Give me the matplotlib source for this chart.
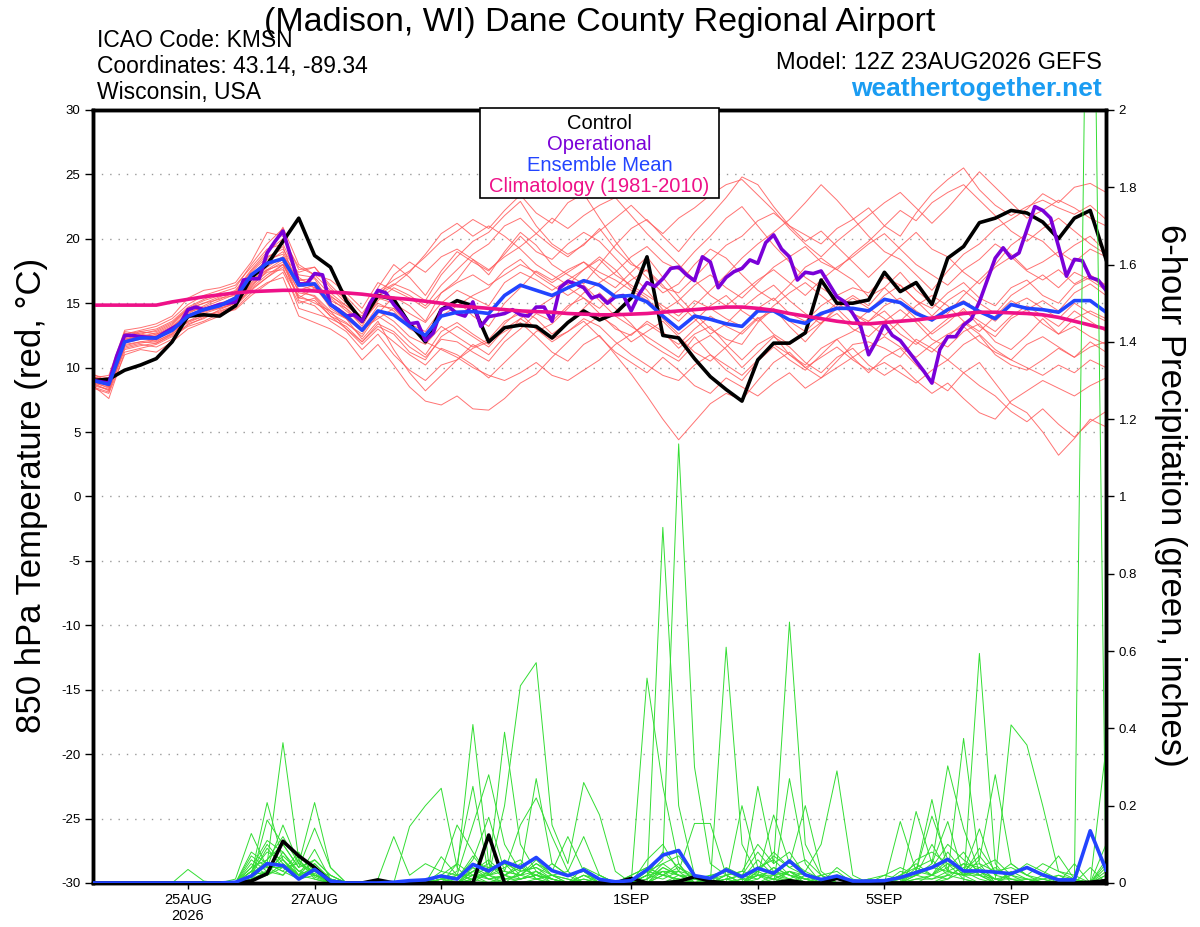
import numpy as np
import pandas as pd
import matplotlib
matplotlib.use('Agg')
import matplotlib.pyplot as plt
from matplotlib.patches import Rectangle

plt.rcParams['font.family'] = ['Liberation Sans', 'DejaVu Sans']

# run start and 6-hourly steps (operational is 3-hourly)
run_start = pd.Timestamp('2026-08-23 12:00')
tick_days = ['2026-08-25', '2026-08-27', '2026-08-29', '2026-09-01',
             '2026-09-03', '2026-09-05', '2026-09-07']
tick_labels = ['25AUG\n2026', '27AUG', '29AUG', '1SEP', '3SEP', '5SEP', '7SEP']

# 850 hPa temperature (C), control run
control_t = [9.0, 9.1, 9.8, 10.2, 10.7, 12.0, 14.0, 14.1, 14.0, 14.8,
             17.0, 18.0, 19.8, 21.6, 18.7, 17.8, 15.2, 13.6, 15.6, 15.3,
             13.4, 12.0, 14.5, 15.2, 14.8, 12.0, 13.1, 13.3, 13.2, 12.3,
             13.5, 14.4, 13.7, 14.2, 15.4, 18.6, 12.5, 12.3, 10.7, 9.3,
             8.3, 7.4, 10.6, 11.9, 11.9, 12.7, 16.8, 15.0, 15.0, 15.25,
             17.4, 15.9, 16.6, 14.9, 18.5, 19.4, 21.25, 21.6, 22.2, 22.0,
             21.3, 20.0, 21.6, 22.2, 18.4]

# operational run, 3-hourly
oper_t = [9.0, 8.9, 8.8, 10.9, 12.5, 12.5, 12.4, 12.35, 12.3, 12.7,
          13.05, 13.4, 14.5, 14.7, 14.5, 14.7, 14.9, 15.0, 15.1, 16.8,
          16.9, 16.9, 18.9, 19.8, 20.6, 18.6, 16.5, 16.5, 17.3, 17.2,
          14.9, 14.5, 14.0, 14.1, 13.6, 15.0, 16.0, 15.8, 14.9, 14.2,
          13.4, 13.5, 12.1, 12.7, 14.5, 14.7, 14.2, 14.0, 15.1, 13.2,
          13.96, 14.07, 14.2, 14.5, 14.1, 14.0, 14.7, 14.7, 13.6, 16.2,
          16.7, 16.5, 16.2, 15.4, 15.6, 15.0, 15.5, 15.6, 14.4, 15.7,
          16.6, 16.3, 16.9, 17.7, 17.8, 17.2, 16.75, 18.6, 18.2, 16.2,
          17.0, 17.45, 17.7, 18.36, 18.1, 19.7, 20.3, 19.2, 18.6, 16.8,
          17.4, 17.3, 17.5, 16.5, 15.5, 15.1, 14.2, 13.2, 11.0, 12.1,
          13.4, 12.5, 12.1, 11.3, 10.5, 9.7, 8.8, 11.4, 12.4, 12.4,
          13.3, 13.8, 15.1, 16.8, 18.5, 19.3, 18.5, 18.9, 20.7, 22.5,
          22.2, 21.6, 19.4, 17.1, 18.4, 18.3, 17.0, 16.8, 16.0]

mean_t = [9.0, 8.7, 12.0, 12.3, 12.3, 12.9, 14.0, 14.5, 14.8, 15.4,
          17.2, 18.1, 18.45, 16.4, 16.5, 14.9, 14.0, 12.9, 14.4, 14.1,
          13.2, 12.5, 14.0, 14.3, 14.35, 14.2, 15.6, 16.4, 16.0, 15.6,
          16.2, 16.75, 16.4, 15.5, 15.6, 15.1, 14.0, 13.0, 14.0, 13.75,
          13.4, 13.2, 14.4, 14.4, 13.7, 13.44, 14.2, 14.6, 14.6, 14.4,
          15.3, 15.05, 14.2, 13.7, 14.5, 15.05, 14.35, 13.8, 14.9, 14.6,
          14.5, 14.3, 15.2, 15.2, 14.3]

clim_t = [14.85, 14.85, 14.85, 14.85, 14.85, 15.1, 15.3, 15.5, 15.65, 15.8,
          15.9, 15.95, 16.0, 16.0, 15.95, 15.85, 15.8, 15.7, 15.55, 15.4,
          15.3, 15.15, 15.0, 14.8, 14.7, 14.6, 14.5, 14.4, 14.35, 14.3,
          14.2, 14.15, 14.1, 14.1, 14.15, 14.2, 14.3, 14.4, 14.5, 14.6,
          14.7, 14.7, 14.6, 14.45, 14.2, 14.0, 13.8, 13.6, 13.45, 13.4,
          13.5, 13.6, 13.7, 13.85, 14.0, 14.2, 14.3, 14.3, 14.25, 14.2,
          14.1, 13.9, 13.6, 13.3, 13.0]

# ensemble members, temperature
members_t = [
    [9.3, 8.5, 12.6, 12.9, 13.2, 13.8, 14.9, 15.6, 16.0, 16.4,
     17.8, 19.2, 19.6, 17.0, 16.2, 15.5, 14.8, 14.0, 15.8, 16.5,
     16.0, 15.2, 17.2, 18.6, 19.8, 20.5, 21.8, 22.9, 21.0, 19.6,
     18.8, 19.5, 20.8, 19.2, 18.0, 17.5, 16.2, 15.8, 17.0, 18.3,
     19.5, 20.2, 21.4, 22.0, 21.0, 20.3, 19.6, 20.8, 21.5, 22.4,
     21.0, 20.2, 22.0, 23.5, 24.6, 25.5, 23.8, 22.6, 21.8, 22.5,
     23.0, 22.4, 21.9, 22.6, 21.5],
    [8.8, 8.2, 11.5, 11.8, 11.6, 12.2, 13.4, 13.8, 14.5, 15.0,
     16.3, 17.5, 18.2, 15.2, 14.8, 13.6, 12.8, 11.4, 12.6, 11.0,
     9.8, 9.0, 10.2, 10.6, 11.5, 12.0, 12.8, 13.5, 12.4, 11.2,
     10.5, 11.8, 12.5, 11.0, 9.5, 7.8, 6.0, 4.4, 5.8, 7.2,
     8.0, 7.5, 9.0, 10.4, 11.2, 10.0, 9.2, 10.5, 11.8, 12.0,
     11.5, 10.8, 12.2, 11.5, 10.6, 11.8, 12.5, 11.0, 10.2, 9.8,
     10.6, 11.5, 10.8, 12.0, 11.2],
    [9.5, 8.9, 12.8, 12.6, 12.9, 13.5, 14.6, 15.0, 15.3, 15.9,
     17.5, 18.8, 20.9, 18.0, 17.2, 16.0, 15.5, 14.2, 15.9, 16.8,
     17.5, 18.6, 19.8, 20.6, 21.5, 20.8, 22.2, 23.4, 22.0, 21.2,
     22.8, 23.5, 21.6, 19.8, 18.2, 17.0, 15.8, 16.5, 18.0, 19.2,
     18.5, 17.2, 16.0, 15.2, 16.4, 17.8, 18.5, 17.6, 16.8, 15.5,
     16.2, 17.4, 16.0, 15.0, 14.2, 15.6, 16.8, 18.0, 19.5, 20.4,
     19.8, 18.6, 19.5, 20.2, 19.0],
    [9.0, 8.6, 12.2, 12.4, 12.0, 12.7, 13.8, 14.4, 14.6, 15.0,
     16.5, 17.6, 18.0, 16.8, 16.9, 15.0, 14.2, 13.0, 14.8, 14.6,
     13.4, 12.8, 14.5, 15.2, 14.0, 13.2, 15.0, 16.2, 17.5, 16.8,
     17.6, 18.2, 17.0, 16.2, 17.4, 18.6, 17.0, 15.5, 14.2, 13.0,
     12.2, 11.8, 13.5, 14.6, 13.2, 12.0, 13.4, 14.8, 15.6, 14.8,
     16.2, 15.0, 13.8, 12.6, 13.5, 14.6, 13.2, 12.4, 13.8, 14.5,
     15.2, 14.4, 15.8, 16.5, 15.6],
    [8.6, 7.6, 11.2, 11.5, 11.8, 12.4, 13.2, 13.6, 14.2, 14.8,
     16.0, 17.0, 17.8, 14.6, 14.2, 13.8, 13.2, 12.0, 13.4, 12.8,
     11.6, 10.8, 12.2, 12.0, 11.2, 10.5, 12.0, 13.0, 14.2, 13.6,
     14.8, 15.4, 14.2, 13.0, 12.5, 13.6, 12.8, 11.5, 12.6, 13.2,
     11.8, 10.6, 11.8, 12.5, 11.0, 10.2, 11.5, 12.2, 10.8, 9.6,
     10.8, 11.5, 10.2, 9.0, 8.2, 9.6, 10.4, 8.8, 7.2, 6.5,
     5.0, 3.2, 4.5, 6.0, 5.4],
    [9.2, 9.4, 12.9, 13.1, 13.4, 14.0, 15.4, 16.0, 16.2, 16.6,
     18.2, 20.5, 20.2, 17.6, 17.8, 16.4, 15.2, 13.5, 16.2, 18.0,
     17.0, 15.6, 17.5, 19.0, 18.2, 17.5, 18.8, 20.2, 19.0, 18.4,
     19.6, 20.5, 19.8, 18.5, 17.2, 16.0, 14.5, 13.6, 14.8, 16.0,
     17.2, 18.5, 19.6, 20.5, 21.5, 22.8, 24.2, 23.0, 21.6, 20.2,
     19.0, 18.4, 17.2, 16.0, 17.5, 18.8, 19.6, 20.8, 21.5, 22.3,
     23.5, 22.8, 24.0, 24.3, 23.6],
    [8.4, 8.0, 11.0, 11.4, 11.2, 12.0, 13.0, 13.5, 14.0, 14.6,
     15.8, 16.6, 17.0, 14.0, 13.5, 13.0, 12.2, 10.6, 11.8, 10.2,
     8.5, 7.4, 7.1, 7.8, 6.8, 6.7, 7.6, 8.8, 9.5, 10.8,
     12.0, 13.2, 14.0, 13.2, 12.0, 12.8, 13.6, 12.4, 11.2, 10.5,
     11.6, 12.8, 13.9, 12.6, 11.8, 12.6, 13.5, 14.2, 13.0, 12.4,
     13.6, 14.5, 13.5, 12.2, 11.6, 12.8, 13.4, 12.0, 11.4, 12.5,
     13.8, 12.6, 13.2, 12.4, 11.8],
    [9.1, 8.8, 12.4, 12.8, 12.6, 13.2, 14.2, 14.8, 15.4, 15.6,
     17.0, 18.5, 19.4, 16.0, 15.5, 14.2, 13.5, 12.4, 14.2, 15.5,
     14.8, 13.6, 15.8, 16.8, 18.4, 17.2, 19.0, 20.5, 19.5, 18.0,
     17.2, 16.5, 18.0, 19.5, 20.8, 21.5, 20.2, 19.0, 20.5, 21.8,
     23.2, 24.8, 24.2, 22.5, 21.0, 19.8, 20.6, 19.4, 18.2, 17.0,
     18.2, 19.4, 20.5, 19.2, 18.6, 17.4, 16.5, 17.8, 18.6, 17.5,
     16.8, 17.6, 16.5, 17.2, 16.4],
    [8.9, 8.4, 11.8, 12.0, 12.2, 12.8, 13.5, 14.0, 14.4, 14.8,
     16.2, 17.2, 18.0, 16.0, 16.4, 14.6, 13.8, 12.8, 14.0, 13.2,
     12.0, 11.0, 12.8, 13.5, 12.6, 11.8, 13.4, 14.5, 13.8, 12.6,
     13.5, 14.6, 15.8, 14.6, 13.4, 12.0, 11.2, 10.5, 11.8, 12.5,
     11.4, 10.0, 11.2, 12.4, 11.6, 10.4, 9.6, 10.8, 11.5, 10.2,
     9.4, 10.2, 9.0, 8.0, 8.8, 7.6, 6.5, 6.0, 7.4, 8.2,
     9.0, 8.4, 7.8, 8.6, 9.2],
    [9.0, 9.0, 12.5, 12.2, 12.5, 13.0, 14.4, 14.6, 15.0, 15.4,
     17.0, 18.2, 19.0, 16.6, 16.2, 15.2, 14.6, 13.2, 15.4, 15.0,
     14.2, 13.5, 15.0, 16.0, 15.4, 14.8, 16.6, 17.4, 16.8, 16.0,
     16.8, 17.6, 18.4, 17.2, 16.4, 15.6, 14.8, 14.0, 15.2, 14.6,
     13.8, 13.2, 14.6, 15.4, 14.2, 13.6, 14.8, 15.6, 16.2, 15.8,
     17.0, 16.4, 15.2, 14.6, 15.8, 16.6, 15.4, 14.8, 16.2, 16.8,
     15.6, 15.0, 16.4, 17.0, 16.2],
    [8.7, 8.3, 11.6, 11.9, 12.1, 12.6, 13.6, 14.2, 14.6, 15.0,
     16.4, 17.4, 17.6, 15.6, 15.0, 14.4, 13.0, 11.8, 13.0, 12.0,
     11.0, 10.2, 11.5, 11.0, 10.2, 9.2, 10.4, 11.6, 12.8, 13.4,
     14.6, 15.8, 16.6, 17.4, 18.6, 19.4, 18.2, 17.6, 19.0, 20.2,
     21.6, 22.5, 21.0, 19.5, 18.2, 17.0, 16.2, 15.4, 14.2, 13.4,
     12.5, 13.6, 14.8, 15.6, 14.8, 13.6, 12.8, 14.0, 15.2, 14.5,
     13.4, 12.6, 13.8, 14.4, 13.8],
    [9.3, 8.9, 12.3, 12.7, 12.8, 13.4, 14.6, 15.2, 15.6, 15.8,
     17.4, 18.6, 19.2, 17.2, 17.0, 15.6, 14.6, 13.6, 15.0, 14.4,
     13.0, 12.4, 14.0, 14.8, 15.6, 16.2, 17.6, 18.4, 17.2, 16.4,
     15.6, 16.4, 15.2, 14.0, 13.2, 12.4, 11.6, 10.8, 12.4, 11.0,
     9.8, 9.0, 10.5, 11.6, 10.6, 9.8, 11.0, 12.2, 12.8, 13.6,
     14.4, 13.2, 12.0, 11.2, 12.4, 13.5, 12.6, 11.4, 10.6, 11.8,
     12.4, 11.6, 10.8, 11.6, 12.0],
    [9.0, 8.7, 12.1, 12.5, 12.4, 13.0, 14.1, 14.6, 14.9, 15.5,
     17.2, 18.0, 18.6, 17.4, 17.8, 16.2, 15.0, 13.6, 15.4, 17.2,
     18.2, 17.4, 18.6, 19.2, 18.4, 17.6, 18.6, 19.4, 20.4, 21.6,
     20.8, 21.8, 22.6, 23.2, 21.8, 20.4, 19.2, 18.0, 16.8, 15.6,
     14.8, 15.8, 16.8, 17.6, 16.6, 15.6, 16.8, 17.8, 18.6, 19.6,
     20.4, 19.2, 18.0, 17.2, 16.4, 17.6, 18.4, 19.6, 18.8, 17.6,
     18.2, 19.0, 18.2, 19.2, 18.6],
    [8.5, 8.1, 11.4, 11.7, 11.9, 12.5, 13.3, 13.9, 14.2, 14.5,
     15.6, 16.5, 17.4, 15.0, 15.4, 14.0, 13.4, 12.6, 14.4, 13.6,
     12.4, 11.8, 13.2, 12.4, 11.6, 12.2, 13.6, 14.2, 13.0, 12.2,
     12.8, 13.6, 12.4, 11.2, 10.4, 9.6, 10.8, 9.8, 8.6, 8.0,
     9.2, 8.5, 7.8, 8.8, 9.6, 8.4, 9.2, 10.0, 10.8, 11.6,
     12.4, 11.6, 10.8, 11.8, 12.6, 13.2, 12.0, 11.2, 10.6, 10.0,
     9.4, 10.2, 9.6, 10.6, 10.0],
    [9.4, 9.2, 12.7, 12.4, 12.7, 13.3, 14.5, 15.0, 15.5, 16.0,
     17.6, 19.0, 20.0, 17.8, 17.2, 16.8, 15.8, 14.6, 16.6, 16.0,
     15.4, 14.6, 15.8, 16.6, 17.2, 16.4, 17.2, 18.0, 17.4, 16.6,
     17.4, 18.2, 17.4, 16.8, 16.0, 15.2, 14.4, 15.2, 16.4, 17.2,
     16.2, 15.4, 16.6, 17.8, 18.6, 19.4, 18.2, 17.6, 18.8, 19.8,
     21.0, 22.2, 21.4, 22.8, 23.6, 24.2, 23.0, 21.8, 20.6, 19.8,
     20.8, 21.6, 20.6, 19.6, 18.8],
    [8.8, 8.5, 11.9, 12.2, 12.3, 12.9, 13.9, 14.3, 14.7, 15.1,
     16.6, 17.8, 18.6, 15.8, 15.6, 14.4, 13.8, 12.2, 13.6, 11.4,
     9.6, 8.2, 9.4, 10.6, 11.8, 11.0, 12.4, 13.8, 14.6, 15.4,
     16.2, 15.4, 14.6, 15.8, 16.8, 17.6, 16.4, 15.0, 13.8, 12.6,
     13.4, 14.6, 15.6, 16.4, 15.2, 14.2, 13.4, 14.6, 15.4, 14.6,
     13.8, 12.6, 11.8, 12.8, 13.8, 14.4, 13.6, 12.8, 14.0, 14.8,
     14.0, 13.2, 14.4, 13.6, 12.8],
    [9.1, 8.8, 12.2, 12.6, 12.4, 13.1, 14.3, 14.7, 15.2, 15.7,
     17.2, 18.4, 18.8, 16.4, 16.0, 15.8, 14.8, 13.8, 15.6, 16.4,
     17.4, 18.8, 20.4, 21.2, 20.2, 21.0, 20.2, 19.2, 18.0, 17.2,
     16.4, 17.6, 18.6, 17.6, 16.2, 15.4, 13.8, 12.6, 13.6, 14.8,
     15.6, 14.4, 13.6, 14.8, 15.8, 16.6, 15.6, 14.6, 13.4, 14.4,
     15.6, 16.4, 15.2, 14.0, 15.2, 16.0, 15.0, 14.2, 15.6, 16.4,
     17.2, 16.2, 17.4, 16.8, 16.0],
    [8.6, 8.3, 11.7, 12.0, 11.9, 12.6, 13.6, 14.0, 14.3, 14.9,
     16.1, 17.0, 18.0, 15.4, 16.2, 14.8, 13.8, 13.0, 13.8, 14.6,
     13.2, 12.0, 11.4, 10.8, 10.0, 9.4, 9.0, 9.6, 10.4, 9.4,
     9.0, 9.8, 10.6, 11.8, 12.6, 13.4, 12.6, 11.8, 13.0, 14.0,
     13.2, 12.6, 13.8, 14.4, 13.6, 12.8, 14.0, 15.0, 14.2, 13.6,
     14.8, 15.4, 14.4, 13.6, 14.6, 15.2, 14.4, 13.6, 14.8, 15.4,
     14.6, 13.8, 15.0, 14.2, 13.6],
    [9.2, 9.1, 12.6, 12.8, 13.0, 13.6, 14.7, 15.3, 15.8, 16.2,
     18.0, 19.6, 20.8, 16.8, 16.6, 15.4, 14.4, 13.4, 15.2, 16.2,
     15.6, 14.8, 16.4, 17.6, 18.8, 19.6, 21.0, 21.6, 20.4, 19.4,
     18.6, 19.6, 20.6, 21.6, 22.6, 21.4, 20.4, 21.6, 22.4, 23.4,
     24.2, 24.6, 23.4, 22.2, 20.8, 19.6, 18.6, 19.8, 20.8, 21.8,
     22.8, 23.6, 22.4, 21.2, 22.4, 23.8, 25.2, 24.0, 22.8, 21.6,
     22.2, 23.0, 22.4, 21.6, 21.0],
    [8.9, 8.6, 12.0, 12.3, 12.6, 13.0, 14.0, 14.4, 14.8, 15.2,
     16.8, 17.6, 18.4, 15.4, 15.2, 14.0, 13.0, 12.0, 13.2, 12.6,
     11.2, 10.6, 12.4, 13.2, 12.4, 11.6, 13.0, 13.8, 13.0, 12.0,
     12.8, 13.8, 13.2, 12.0, 11.0, 10.2, 9.4, 9.0, 10.2, 11.0,
     10.2, 9.4, 10.6, 11.8, 11.0, 10.0, 10.8, 11.6, 10.6, 9.8,
     10.4, 9.6, 8.8, 9.8, 10.6, 9.6, 8.6, 7.8, 6.6, 5.8,
     6.8, 5.6, 4.6, 5.8, 6.6],
]

# 6-hour precipitation (inches)
control_p = [0, 0, 0, 0, 0, 0, 0, 0, 0, 0,
             0.005, 0.024, 0.108, 0.07, 0.04, 0.003, 0, 0, 0.008, 0,
             0, 0, 0, 0, 0, 0.124, 0, 0, 0, 0,
             0, 0, 0, 0, 0.012, 0, 0, 0.004, 0.016, 0.004,
             0, 0, 0, 0, 0.006, 0, 0, 0.012, 0, 0,
             0, 0, 0, 0, 0, 0, 0, 0, 0, 0,
             0, 0, 0, 0.002, 0.006]

mean_p = [0, 0, 0, 0, 0, 0, 0, 0, 0, 0.002,
          0.018, 0.05, 0.045, 0.01, 0.035, 0.005, 0, 0, 0, 0.002,
          0.006, 0.008, 0.018, 0.01, 0.048, 0.031, 0.055, 0.04, 0.066, 0.032,
          0.019, 0.034, 0.0095, 0.003, 0.006, 0.034, 0.072, 0.084, 0.019, 0.012,
          0.034, 0.016, 0.038, 0.025, 0.057, 0.021, 0.009, 0.018, 0.005, 0.005,
          0.006, 0.014, 0.027, 0.04, 0.061, 0.031, 0.031, 0.028, 0.024, 0.04,
          0.021, 0.008, 0.008, 0.135, 0.034]

members_p = [
    [0, 0, 0, 0, 0, 0, 0.035, 0.005, 0, 0,
     0.02, 0.05, 0.363, 0.06, 0.02, 0, 0, 0, 0, 0,
     0, 0, 0.01, 0.03, 0.41, 0.05, 0.02, 0.01, 0.03, 0,
     0, 0, 0, 0, 0, 0.02, 0.06, 1.136, 0.3, 0.05,
     0.02, 0, 0.03, 0.01, 0, 0, 0, 0.01, 0, 0,
     0, 0, 0, 0.02, 0.05, 0.01, 0, 0, 0, 0,
     0, 0, 0, 0, 0],
    [0, 0, 0, 0, 0, 0, 0, 0, 0, 0.01,
     0.128, 0.04, 0.15, 0.05, 0.208, 0.04, 0, 0, 0, 0,
     0, 0, 0.068, 0.02, 0.15, 0.28, 0.1, 0.03, 0.27, 0.05,
     0.02, 0, 0, 0, 0, 0, 0.92, 0.2, 0.02, 0,
     0, 0.01, 0, 0, 0.27, 0.05, 0, 0, 0, 0,
     0, 0, 0.03, 0.173, 0.06, 0.02, 0, 0, 0, 0,
     0, 0, 0, 0, 0],
    [0, 0, 0, 0, 0, 0, 0, 0, 0, 0,
     0.02, 0.208, 0.06, 0.02, 0.087, 0.01, 0, 0, 0, 0,
     0.146, 0.2, 0.245, 0.04, 0, 0.03, 0.39, 0.1, 0.03, 0.01,
     0, 0, 0, 0, 0, 0.53, 0.25, 0.05, 0, 0,
     0.61, 0.1, 0.02, 0, 0.03, 0.01, 0, 0, 0, 0,
     0, 0, 0, 0, 0.02, 0.374, 0.05, 0, 0.02, 0,
     0, 0, 0, 0, 0],
    [0, 0, 0, 0, 0, 0, 0, 0, 0, 0,
     0.01, 0.163, 0.1, 0.04, 0.142, 0.04, 0, 0, 0, 0,
     0, 0, 0, 0.05, 0.25, 0.02, 0.2, 0.51, 0.57, 0.15,
     0.05, 0.26, 0.176, 0.03, 0, 0, 0, 0.02, 0, 0,
     0, 0, 0.25, 0.05, 0.675, 0.1, 0.02, 0, 0, 0,
     0, 0, 0, 0, 0, 0, 0.594, 0.05, 0, 0,
     0, 0, 0, 0, 0],
    [0, 0, 0, 0, 0, 0, 0, 0, 0, 0,
     0.05, 0.02, 0.08, 0.03, 0.05, 0.01, 0, 0, 0, 0,
     0, 0, 0.02, 0.01, 0.06, 0.17, 0.03, 0.15, 0.22, 0.12,
     0.03, 0.12, 0.02, 0, 0, 0, 0.03, 0.03, 0.154, 0.154,
     0.02, 0, 0.02, 0.176, 0.05, 0.2, 0.03, 0, 0, 0,
     0, 0, 0.185, 0.05, 0.303, 0.141, 0.03, 0, 0, 0,
     0, 0, 0, 3.2, 0],
    [0, 0, 0, 0, 0, 0, 0, 0, 0, 0,
     0.03, 0.1, 0.05, 0.02, 0.06, 0.02, 0, 0, 0.01, 0.12,
     0.02, 0.05, 0.03, 0.15, 0.08, 0.02, 0.06, 0.02, 0.05, 0.03,
     0.12, 0.03, 0, 0, 0, 0.06, 0.1, 0.03, 0, 0.02,
     0, 0.2, 0.04, 0.02, 0.06, 0.03, 0.1, 0.29, 0.02, 0,
     0, 0.159, 0.03, 0.216, 0.03, 0.02, 0.06, 0.28, 0.05, 0.02,
     0, 0, 0, 0, 0.35],
    [0, 0, 0, 0, 0, 0, 0, 0, 0, 0,
     0.04, 0.06, 0.12, 0.05, 0.03, 0.02, 0, 0, 0, 0,
     0, 0, 0, 0, 0.03, 0.06, 0.02, 0.04, 0.02, 0.01,
     0, 0.04, 0.02, 0, 0, 0.03, 0.05, 0.07, 0.02, 0,
     0.04, 0.02, 0.08, 0.03, 0.02, 0, 0.02, 0.03, 0, 0.01,
     0.02, 0.04, 0.02, 0.05, 0.159, 0.02, 0.03, 0.01, 0.409, 0.357,
     0.2, 0.03, 0.01, 0, 0],
    [0, 0, 0, 0, 0, 0, 0, 0, 0, 0,
     0.06, 0.03, 0.02, 0.07, 0.04, 0, 0, 0, 0, 0,
     0, 0, 0.01, 0.02, 0.02, 0.02, 0.03, 0.02, 0.05, 0.02,
     0, 0.02, 0, 0, 0, 0.01, 0.04, 0.02, 0.01, 0,
     0.01, 0.02, 0.03, 0.08, 0.04, 0.02, 0.01, 0, 0, 0,
     0, 0.02, 0.05, 0.02, 0.08, 0.03, 0.14, 0.02, 0.05, 0.02,
     0.01, 0.02, 0.01, 0, 0.1],
    [0, 0, 0, 0, 0, 0, 0, 0, 0, 0,
     0.02, 0.09, 0.04, 0.02, 0.025, 0, 0, 0, 0, 0,
     0, 0, 0, 0.02, 0.04, 0.01, 0.02, 0.05, 0.01, 0,
     0, 0, 0, 0, 0.02, 0.04, 0.02, 0.01, 0, 0,
     0, 0, 0.01, 0.04, 0.02, 0.01, 0, 0, 0, 0,
     0, 0, 0.02, 0.1, 0.03, 0.02, 0.02, 0, 0.03, 0.01,
     0, 0, 0.01, 0, 0],
    [0, 0, 0, 0, 0, 0, 0, 0, 0, 0,
     0.08, 0.05, 0.03, 0.01, 0.05, 0.01, 0, 0, 0, 0,
     0, 0, 0.02, 0.01, 0.05, 0.04, 0.03, 0.02, 0.01, 0.02,
     0.03, 0, 0, 0, 0, 0, 0.02, 0.04, 0.01, 0.02,
     0.03, 0.01, 0.06, 0.02, 0, 0.02, 0.01, 0, 0, 0,
     0, 0.03, 0.02, 0.04, 0.06, 0.03, 0.07, 0.02, 0.01, 0,
     0.02, 0.07, 0.01, 0, 0.04],
    [0, 0, 0, 0, 0, 0, 0, 0, 0, 0,
     0.01, 0.03, 0.07, 0.03, 0.02, 0.005, 0, 0, 0, 0,
     0, 0.01, 0, 0, 0.02, 0, 0.01, 0.02, 0.03, 0.01,
     0, 0.01, 0, 0, 0, 0.02, 0.01, 0.03, 0.02, 0,
     0, 0, 0.02, 0.01, 0.03, 0, 0, 0.01, 0, 0,
     0, 0, 0.01, 0.02, 0.01, 0.05, 0.02, 0, 0, 0.01,
     0, 0, 0, 0, 0.02],
    [0, 0, 0, 0, 0, 0, 0, 0, 0, 0,
     0.03, 0.04, 0.02, 0.06, 0.01, 0, 0, 0, 0, 0,
     0, 0, 0.01, 0, 0.01, 0.02, 0, 0.03, 0.04, 0.01,
     0, 0.02, 0.01, 0, 0, 0, 0.02, 0.01, 0, 0,
     0.01, 0, 0.04, 0.06, 0.02, 0.01, 0, 0.02, 0, 0,
     0, 0.01, 0.03, 0.02, 0.04, 0.08, 0.02, 0.01, 0, 0,
     0.01, 0, 0, 0, 0],
    [0, 0, 0, 0, 0, 0, 0, 0, 0, 0,
     0.02, 0.06, 0.1, 0.04, 0.06, 0.02, 0, 0, 0, 0,
     0, 0, 0.02, 0.05, 0.02, 0.04, 0.05, 0.01, 0.02, 0.05,
     0.02, 0.03, 0, 0, 0, 0.01, 0.05, 0.02, 0, 0.01,
     0.02, 0.03, 0.1, 0.05, 0.08, 0.02, 0, 0.04, 0.01, 0,
     0, 0, 0.02, 0.01, 0.03, 0.02, 0.04, 0.06, 0.02, 0.05,
     0.03, 0.01, 0, 0, 0.06],
    [0, 0, 0, 0, 0, 0, 0, 0, 0, 0,
     0.005, 0.02, 0.04, 0.015, 0.03, 0, 0, 0, 0, 0,
     0, 0, 0, 0, 0.01, 0, 0.02, 0, 0.01, 0,
     0, 0, 0, 0, 0, 0, 0, 0.01, 0, 0,
     0, 0, 0, 0.02, 0.01, 0, 0, 0, 0, 0,
     0, 0, 0, 0, 0.01, 0.03, 0.01, 0, 0, 0,
     0, 0, 0, 0, 0],
    [0, 0, 0, 0, 0, 0, 0, 0, 0, 0,
     0.04, 0.11, 0.08, 0.02, 0.01, 0, 0, 0, 0, 0,
     0, 0, 0, 0.01, 0.07, 0.02, 0.04, 0.06, 0.01, 0.02,
     0.01, 0, 0.02, 0, 0, 0.02, 0.08, 0.04, 0.02, 0,
     0.01, 0, 0.03, 0.07, 0.04, 0.06, 0.02, 0, 0, 0.01,
     0, 0.02, 0.04, 0.06, 0.02, 0.04, 0.05, 0.03, 0.02, 0.04,
     0.02, 0, 0.05, 0, 0.03],
    [0, 0, 0, 0, 0, 0, 0, 0, 0, 0,
     0.03, 0.02, 0.05, 0.02, 0.04, 0.01, 0, 0, 0, 0,
     0, 0, 0.01, 0, 0.03, 0.01, 0, 0.01, 0.02, 0,
     0, 0, 0, 0, 0, 0.01, 0.03, 0, 0, 0,
     0, 0, 0, 0.01, 0.01, 0, 0, 0, 0, 0,
     0, 0, 0.01, 0.01, 0.02, 0.01, 0, 0, 0, 0,
     0, 0, 0, 0, 0.01],
    [0, 0, 0, 0, 0, 0, 0, 0, 0, 0,
     0.07, 0.04, 0.04, 0.05, 0.02, 0.01, 0, 0, 0, 0,
     0, 0, 0.03, 0.02, 0.01, 0.03, 0.05, 0.03, 0.04, 0.02,
     0, 0.02, 0, 0, 0.02, 0.04, 0.02, 0.01, 0.01, 0,
     0.02, 0.03, 0.02, 0.01, 0.03, 0.02, 0, 0.02, 0, 0,
     0.02, 0.01, 0.03, 0.04, 0.1, 0.06, 0.03, 0.01, 0.02, 0.01,
     0, 0.02, 0, 0.04, 0],
    [0, 0, 0, 0, 0, 0, 0, 0, 0, 0,
     0.02, 0.03, 0.06, 0.01, 0.02, 0, 0, 0, 0, 0,
     0, 0, 0, 0, 0.02, 0.01, 0.02, 0.04, 0.02, 0.01,
     0, 0, 0, 0, 0, 0, 0.04, 0.02, 0.02, 0,
     0, 0.01, 0.02, 0.02, 0.03, 0.01, 0, 0.01, 0, 0,
     0, 0, 0.06, 0.08, 0.05, 0.03, 0.02, 0.04, 0.01, 0,
     0, 0, 0, 0, 0],
    [0, 0, 0, 0, 0, 0, 0, 0, 0, 0,
     0.01, 0.05, 0.03, 0.08, 0.015, 0, 0, 0, 0, 0,
     0, 0, 0.01, 0.01, 0.03, 0.05, 0.01, 0.02, 0.06, 0.02,
     0.01, 0, 0, 0, 0, 0.03, 0.02, 0.05, 0, 0,
     0.01, 0.02, 0.01, 0.04, 0.02, 0.01, 0.02, 0, 0, 0,
     0, 0, 0.04, 0.02, 0.06, 0.02, 0.09, 0.03, 0.04, 0.02,
     0.05, 0.03, 0.02, 0, 0.05],
    [0, 0, 0, 0, 0, 0, 0, 0, 0, 0,
     0.03, 0.08, 0.06, 0.02, 0.04, 0.01, 0, 0, 0, 0,
     0, 0, 0.01, 0, 0.04, 0.02, 0.01, 0.01, 0.02, 0.01,
     0, 0.01, 0, 0, 0, 0.02, 0.03, 0.02, 0.01, 0,
     0.02, 0, 0.02, 0.03, 0.01, 0.03, 0.01, 0, 0, 0,
     0, 0.01, 0.02, 0.04, 0.03, 0.05, 0.04, 0.01, 0.01, 0.01,
     0.01, 0, 0, 0, 0.02],
]

RED = '#ff5a5a'
GREEN = '#33dd33'
PURPLE = '#7a00d8'
BLUE = '#2244ff'
MAGENTA = '#ee1188'


def hours(vals, step=6):
    return np.arange(len(vals)) * step


fig = plt.figure(figsize=(12, 9.27), dpi=100)
ax = fig.add_axes([0.0775, 0.0475, 0.8442, 0.8339])
ax2 = ax.twinx()

for m in members_t:
    ax.plot(hours(m), m, color=RED, lw=0.7, alpha=0.85, zorder=2)
ax.plot(hours(control_t), control_t, color='black', lw=2.6, zorder=4)
ax.plot(hours(oper_t, 3), oper_t, color=PURPLE, lw=2.6, zorder=4)
ax.plot(hours(mean_t), mean_t, color=BLUE, lw=2.6, zorder=4)
ax.plot(hours(clim_t), clim_t, color=MAGENTA, lw=2.6, zorder=5)

for m in members_p:
    ax2.plot(hours(m), m, color=GREEN, lw=0.7, zorder=2)
ax2.plot(hours(control_p), control_p, color='black', lw=2.6, zorder=4)
ax2.plot(hours(mean_p), mean_p, color=BLUE, lw=2.6, zorder=4)

t_end = 64 * 6
ax.set_xlim(0, t_end)
ax.set_ylim(-30, 30)
ax2.set_ylim(0, 2)

tick_hours = [(pd.Timestamp(d) - run_start) / pd.Timedelta(hours=1) for d in tick_days]
ax.set_xticks(tick_hours)
ax.set_xticklabels(tick_labels, fontsize=10.5)
ax.set_yticks(np.arange(-30, 31, 5))
ax.set_yticklabels([str(v) for v in range(-30, 31, 5)], fontsize=9.5)
ax2.set_yticks(np.arange(0, 2.01, 0.2))
ax2.set_yticklabels(['%g' % round(v, 1) for v in np.arange(0, 2.01, 0.2)], fontsize=9.5)

ax.tick_params(axis='y', direction='out', length=6, width=1, pad=3)
ax.tick_params(axis='x', direction='out', length=4, width=1, pad=3)
ax2.tick_params(axis='y', direction='out', length=6, width=1, pad=3)

ax.yaxis.grid(True, linestyle=(0, (1, 5)), color='#999999', lw=1)
ax.set_axisbelow(True)

for a in (ax, ax2):
    for s in a.spines.values():
        s.set_linewidth(2.5)

fig.text(0.026, 0.466, '850 hPa Temperature (red, \u00b0C)', rotation=90,
         ha='center', va='center', fontsize=25)
fig.text(0.975, 0.466, '6-hour Precipitation (green, inches)', rotation=270,
         ha='center', va='center', fontsize=25)

# header
fig.text(0.5, 0.976, '(Madison, WI) Dane County Regional Airport',
         ha='center', va='center', fontsize=24.5)
fig.text(0.081, 0.956, 'ICAO Code: KMSN', ha='left', va='center', fontsize=16.5)
fig.text(0.081, 0.928, 'Coordinates: 43.14, -89.34', ha='left', va='center', fontsize=16.5)
fig.text(0.081, 0.900, 'Wisconsin, USA', ha='left', va='center', fontsize=16.5)
fig.text(0.918, 0.932, 'Model: 12Z 23AUG2026 GEFS', ha='right', va='center', fontsize=17)
fig.text(0.918, 0.904, 'weathertogether.net', ha='right', va='center',
         fontsize=19, fontweight='bold', color='#1a9cf2')

# legend box
ax2.add_patch(Rectangle((0.382, 0.886), 0.236, 0.117, transform=ax.transAxes,
                        facecolor='white', edgecolor='black', lw=1.2,
                        clip_on=False, zorder=10))
leg = [('Control', 'black'), ('Operational', PURPLE),
       ('Ensemble Mean', BLUE), ('Climatology (1981-2010)', MAGENTA)]
for k, (txt, col) in enumerate(leg):
    ax2.text(0.5, 0.983 - k * 0.0275, txt, transform=ax.transAxes, ha='center',
             va='center', fontsize=14.5, color=col, zorder=11)

fig.savefig('out.png', dpi=100)
